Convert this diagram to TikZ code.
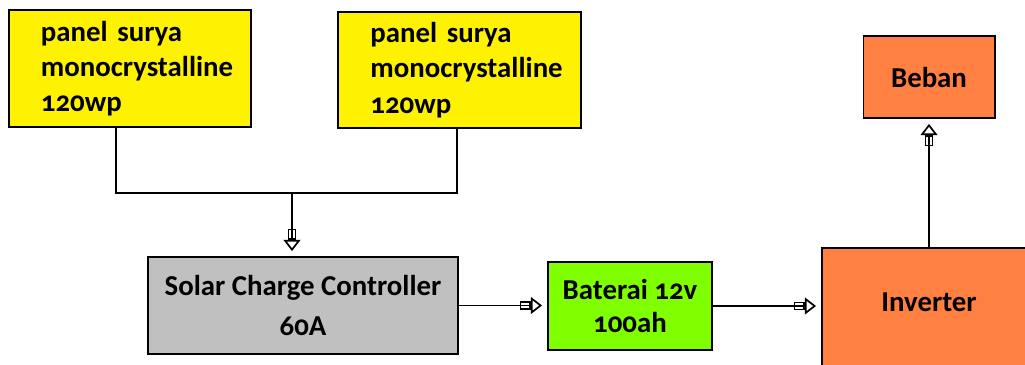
\documentclass[tikz,border=0pt]{standalone}
\usepackage{fontspec}
\setmainfont{Carlito}[Numbers=OldStyle]
\usetikzlibrary{arrows.meta}
\definecolor{panelyellow}{RGB}{255,242,0}
\definecolor{sccgray}{RGB}{192,192,192}
\definecolor{batgreen}{RGB}{128,255,0}
\definecolor{loadorange}{RGB}{255,128,64}

\begin{document}
\begin{tikzpicture}[x=0.025cm, y=0.025cm,
    box/.style={draw, line width=1.4pt, inner sep=0pt, align=center,
      font=\bfseries\fontsize{20.5}{25}\selectfont},
    wire/.style={line width=1.2pt},
    feed/.style={wire, shorten >=3.5pt,
      -{Rectangle[open, line width=1.2pt, length=8pt, width=6pt]Triangle[open, line width=1.2pt, length=8pt, width=12pt]}}]
                \clip (0,0) rectangle (1025,364);

                \node[box, fill=panelyellow, minimum width=6.05cm, minimum height=2.925cm, text width=4.45cm, align=left] (panelA) at (130,295.5) {panel surya\\monocrystalline\\120wp};
                \node[box, fill=panelyellow, minimum width=6.075cm, minimum height=2.9cm, text width=4.45cm, align=left] (panelB) at (459.5,294) {panel surya\\monocrystalline\\120wp};

                \node[box, fill=sccgray, minimum width=7.75cm, minimum height=2.425cm] (scc) at (303,58.5) {Solar Charge Controller\\[4pt]60A};
                \node[box, fill=batgreen, minimum width=4.1cm, minimum height=2.2cm] (bat) at (630,58) {Baterai 12v\\[-1pt]100ah};
                \node[box, fill=loadorange, anchor=base, minimum width=5.35cm, text height=1.575cm, text depth=1.75cm] (inv) at (929,53) {Inverter};
                \node[box, fill=loadorange, minimum width=3.275cm, minimum height=2.05cm] (beban) at (929,287) {Beban};

                \coordinate (busL) at (116,171);
                \coordinate (busM) at (292,171);
                \coordinate (busR) at (457,171);

                \draw[wire] (panelA.south -| busL) -- (busL) -- (busR) -- (panelB.south -| busR);
                \draw[feed] (busM) -- (scc.north -| busM);
                \draw[feed] (scc.east) -- (scc.east -| bat.west);
                \draw[feed] (bat.east) -- (bat.east -| inv.west);
                \draw[feed] (inv.north) -- (beban.south);
            \end{tikzpicture}
\end{document}
